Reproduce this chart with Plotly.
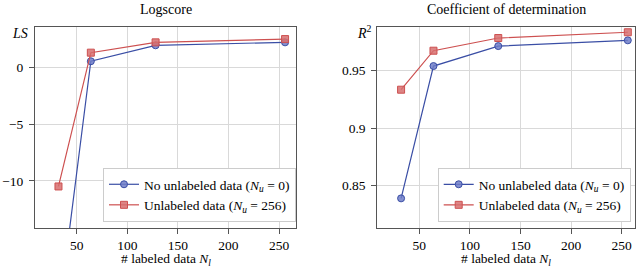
import plotly.graph_objects as go

# ---- data ----
n_labeled = [32, 64, 128, 256]
ls_no_unlabeled = [-22.0, 0.56, 1.97, 2.23]
ls_unlabeled = [-10.5, 1.32, 2.23, 2.52]
r2_no_unlabeled = [0.839, 0.9537, 0.971, 0.976]
r2_unlabeled = [0.9332, 0.967, 0.978, 0.983]

x_ticks = [50, 100, 150, 200, 250]
ls_ticks = [-10, -5, 0]
ls_ticktext = ["\u221210", "\u22125", "0"]
r2_ticks = [0.85, 0.9, 0.95]
r2_ticktext = ["0.85", "0.9", "0.95"]

name_no = "No unlabeled data (<i>N<sub>u</sub></i> = 0)"
name_un = "Unlabeled data (<i>N<sub>u</sub></i> = 256)"

BLUE = "rgb(58,78,165)"
BLUE_FILL = "rgba(110,125,200,0.85)"
RED = "rgb(205,80,80)"
RED_FILL = "rgba(215,110,110,0.85)"
FONT = "Liberation Serif"
W, H = 640, 266

def px_x(p):
    return p / W

def px_y(p):
    return 1 - p / H

fig = go.Figure()

def add(x, y, name, color, fill, symbol, xa, ya, legend):
    fig.add_trace(go.Scatter(
        x=x, y=y, mode="lines+markers", name=name,
        line=dict(color=color, width=1.2),
        marker=dict(symbol=symbol, size=7, color=fill, line=dict(color=color, width=1)),
        xaxis=xa, yaxis=ya, legend=legend,
    ))

add(n_labeled, ls_no_unlabeled, name_no, BLUE, BLUE_FILL, "circle", "x", "y", "legend")
add(n_labeled, ls_unlabeled, name_un, RED, RED_FILL, "square", "x", "y", "legend")
add(n_labeled, r2_no_unlabeled, name_no, BLUE, BLUE_FILL, "circle", "x2", "y2", "legend2")
add(n_labeled, r2_unlabeled, name_un, RED, RED_FILL, "square", "x2", "y2", "legend2")

ydom = [px_y(228), px_y(27.3)]
axis_common = dict(
    showline=True, linecolor="#555555", linewidth=1, mirror=True,
    showgrid=True, gridcolor="#d9d9d9", gridwidth=1,
    ticks="outside", ticklen=5, tickcolor="#555555",
    tickfont=dict(family=FONT, size=13.5, color="black"),
    zeroline=False,
)

legend_common = dict(bgcolor="white", bordercolor="#cccccc", borderwidth=1,
                     font=dict(family=FONT, size=13.5, color="black"),
                     tracegroupgap=0, itemwidth=30)

fig.update_layout(
    width=W, height=H, autosize=False,
    margin=dict(l=0, r=0, t=0, b=0),
    plot_bgcolor="white", paper_bgcolor="white",
    font=dict(family=FONT, size=13.5, color="black"),
    xaxis=dict(domain=[px_x(35), px_x(296)], range=[8.8, 266.8], tickvals=x_ticks, anchor="y", **axis_common),
    yaxis=dict(domain=ydom, range=[-14.17, 3.56], tickvals=ls_ticks, ticktext=ls_ticktext, anchor="x",
               ticklabelstandoff=3, **axis_common),
    xaxis2=dict(domain=[px_x(377.3), px_x(635)], range=[8.5, 263.1], tickvals=x_ticks, anchor="y2", **axis_common),
    yaxis2=dict(domain=ydom, range=[0.8133, 0.9873], tickvals=r2_ticks, ticktext=r2_ticktext, anchor="x2",
                ticklabelstandoff=3, **axis_common),
    legend=dict(x=px_x(296), xanchor="right", y=px_y(222), yanchor="bottom", **legend_common),
    legend2=dict(x=px_x(630.7), xanchor="right", y=px_y(222), yanchor="bottom", **legend_common),
    showlegend=True,
)

annots = [
    dict(text="Logscore", x=px_x(165.5), y=px_y(9), size=14),
    dict(text="Coefficient of determination", x=px_x(506), y=px_y(9), size=14),
    dict(text="# labeled data <i>N<sub>l</sub></i>", x=px_x(165.5), y=px_y(259.5), size=13.5),
    dict(text="# labeled data <i>N<sub>l</sub></i>", x=px_x(506), y=px_y(259.5), size=13.5),
    dict(text="<i>LS</i>", x=px_x(20), y=px_y(33), size=14),
    dict(text="<i>R</i><sup>2</sup>", x=px_x(364), y=px_y(32), size=14),
]
for a in annots:
    size = a.pop("size")
    fig.add_annotation(xref="paper", yref="paper", showarrow=False,
                       xanchor="center", yanchor="middle",
                       font=dict(family=FONT, size=size, color="black"), **a)

fig.write_html("out.html", config={"displayModeBar": False},
               post_script="document.body.style.margin='0';document.body.style.padding='0';")
